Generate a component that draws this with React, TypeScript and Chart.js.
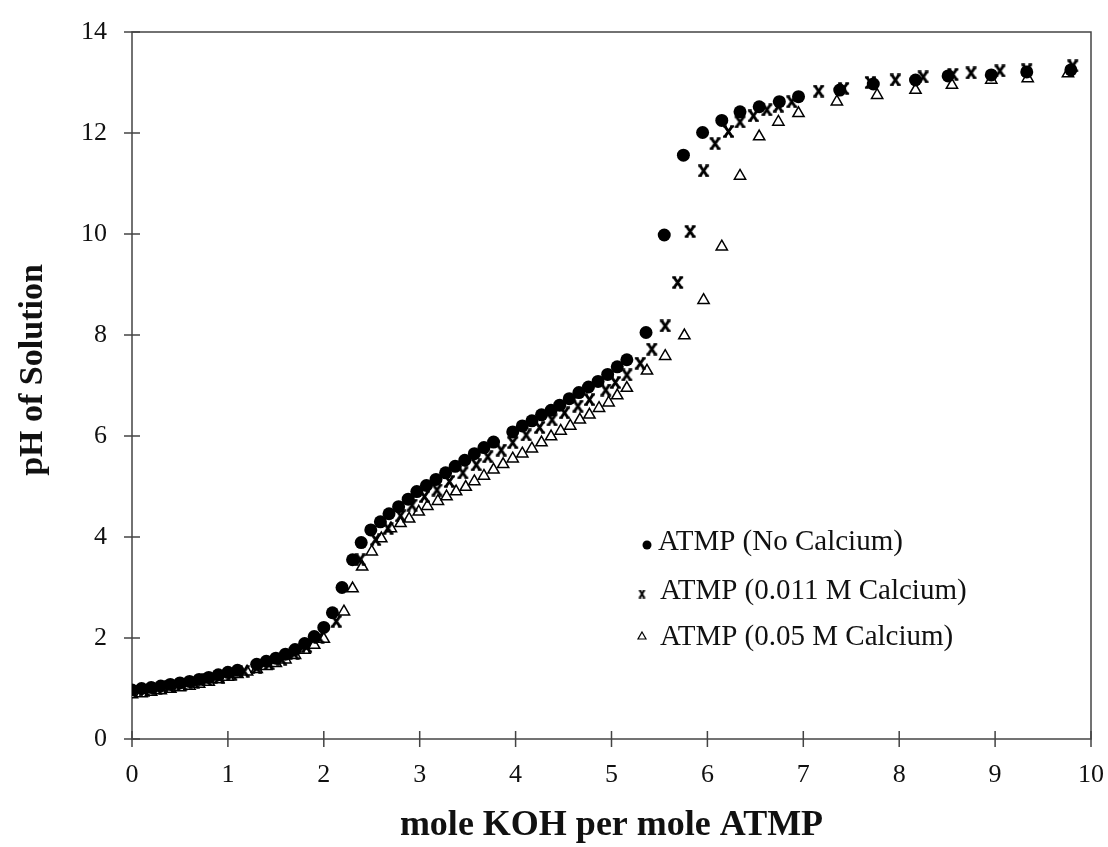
import React, { useEffect, useRef } from "react";
import { Chart, registerables } from "chart.js";

Chart.register(...registerables);

// ---- Data ----
const seriesLabels = [
  "ATMP (No Calcium)",
  "ATMP (0.011 M Calcium)",
  "ATMP (0.05 M Calcium)",
];

const noCaX = [
  0.0, 0.1, 0.2, 0.3, 0.4, 0.5, 0.6, 0.7, 0.8, 0.9, 1.0, 1.1, 1.3, 1.4, 1.5, 1.6, 1.7, 1.8, 1.9, 2.0,
  2.09, 2.19, 2.3, 2.39, 2.49, 2.59, 2.68, 2.78, 2.88, 2.97, 3.07, 3.17, 3.27, 3.37, 3.47, 3.57, 3.67, 3.77,
  3.97, 4.07, 4.17, 4.27, 4.37, 4.46, 4.56, 4.66, 4.76, 4.86, 4.96, 5.06, 5.16, 5.36, 5.55, 5.75, 5.95,
  6.15, 6.34, 6.54, 6.75, 6.95, 7.38, 7.73, 8.17, 8.51, 8.96, 9.33, 9.79,
];
const noCaY = [
  0.97, 1.0, 1.02, 1.05, 1.08, 1.11, 1.14, 1.18, 1.22, 1.27, 1.32, 1.36, 1.48, 1.54, 1.6, 1.68, 1.77, 1.89, 2.03, 2.21,
  2.5, 3.0, 3.55, 3.89, 4.14, 4.3, 4.46, 4.6, 4.75, 4.9, 5.02, 5.14, 5.27, 5.4, 5.52, 5.65, 5.77, 5.88,
  6.08, 6.2, 6.3, 6.42, 6.51, 6.61, 6.74, 6.86, 6.97, 7.08, 7.22, 7.37, 7.51, 8.05, 9.98, 11.56, 12.01,
  12.25, 12.42, 12.52, 12.62, 12.72, 12.85, 12.97, 13.05, 13.13, 13.15, 13.21, 13.25,
];

const midCaX = [
  0.0, 0.13, 0.26, 0.39, 0.52, 0.65, 0.78, 0.91, 1.04, 1.17, 1.3, 1.43, 1.56, 1.69, 1.82, 1.95, 2.13, 2.38,
  2.54, 2.67, 2.8, 2.92, 3.05, 3.18, 3.31, 3.45, 3.59, 3.71, 3.85, 3.97, 4.11, 4.25, 4.38, 4.51, 4.65, 4.77,
  4.94, 5.04, 5.16, 5.3, 5.42, 5.56, 5.69, 5.82, 5.96, 6.08, 6.22, 6.34, 6.48, 6.62, 6.74, 6.88, 7.16, 7.42,
  7.7, 7.96, 8.25, 8.56, 8.75, 9.05, 9.33, 9.81,
];
const midCaY = [
  0.94, 0.97, 1.0, 1.04, 1.08, 1.12, 1.17, 1.22, 1.28, 1.34, 1.41, 1.49, 1.58, 1.69, 1.83, 2.01, 2.33, 3.55,
  3.95, 4.17, 4.42, 4.63, 4.8, 4.93, 5.1, 5.27, 5.43, 5.59, 5.72, 5.87, 6.02, 6.17, 6.32, 6.46, 6.59, 6.72,
  6.91, 7.06, 7.21, 7.44, 7.72, 8.18, 9.04, 10.05, 11.25, 11.79, 12.03, 12.22, 12.34, 12.46, 12.53, 12.62, 12.83, 12.88,
  13.0, 13.05, 13.11, 13.16, 13.19, 13.23, 13.25, 13.33,
];

const hiCaX = [
  0.0, 0.1, 0.2, 0.3, 0.4, 0.5, 0.6, 0.7, 0.8, 0.9, 1.0, 1.1, 1.2, 1.3, 1.4, 1.5, 1.6, 1.7, 1.8, 1.9, 2.0,
  2.21, 2.3, 2.4, 2.5, 2.6, 2.7, 2.8, 2.89, 2.99, 3.08, 3.19, 3.28, 3.38, 3.48, 3.57, 3.67, 3.77, 3.87, 3.97,
  4.07, 4.17, 4.27, 4.37, 4.47, 4.57, 4.67, 4.77, 4.87, 4.97, 5.06, 5.16, 5.37, 5.56, 5.76, 5.96, 6.15, 6.34,
  6.54, 6.74, 6.95, 7.35, 7.77, 8.17, 8.55, 8.96, 9.34, 9.76,
];
const hiCaY = [
  0.88, 0.9, 0.93, 0.96, 0.99, 1.02, 1.05, 1.09, 1.13, 1.18, 1.23, 1.28, 1.33, 1.38, 1.44, 1.5, 1.57, 1.66, 1.76, 1.86, 1.98,
  2.52, 2.98, 3.41, 3.71, 3.97, 4.17, 4.27, 4.36, 4.5, 4.61, 4.71, 4.8, 4.9, 4.99, 5.1, 5.21, 5.33, 5.44, 5.55,
  5.65, 5.75, 5.87, 5.99, 6.1, 6.2, 6.32, 6.42, 6.55, 6.66, 6.8, 6.95, 7.29, 7.58, 7.99, 8.69, 9.75, 11.15,
  11.93, 12.22, 12.39, 12.62, 12.75, 12.85, 12.95, 13.05, 13.08, 13.18,
];

const xTicks = [0, 1, 2, 3, 4, 5, 6, 7, 8, 9, 10];
const yTicks = [0, 2, 4, 6, 8, 10, 12, 14];

const xTitle = "mole KOH per mole ATMP";
const yTitle = "pH of Solution";

const SERIF = "'Liberation Serif', 'Times New Roman', serif";

function makeXMarker(size: number, lw: number): HTMLCanvasElement {
  const c = document.createElement("canvas");
  c.width = size;
  c.height = size;
  const g = c.getContext("2d")!;
  g.strokeStyle = "#000";
  g.lineWidth = lw;
  const m = lw / 2;
  const s = size - m;
  const serif = size * 0.14;
  g.beginPath();
  g.moveTo(m + 1.5, m);
  g.lineTo(s - 1.5, s);
  g.moveTo(s - 1.5, m);
  g.lineTo(m + 1.5, s);
  g.stroke();
  g.lineWidth = lw * 0.8;
  g.beginPath();
  g.moveTo(m + 1.5 - serif, m);
  g.lineTo(m + 1.5 + serif, m);
  g.moveTo(s - 1.5 - serif, m);
  g.lineTo(s - 1.5 + serif, m);
  g.moveTo(m + 1.5 - serif, s);
  g.lineTo(m + 1.5 + serif, s);
  g.moveTo(s - 1.5 - serif, s);
  g.lineTo(s - 1.5 + serif, s);
  g.stroke();
  return c;
}

function zip(xs: number[], ys: number[]) {
  return xs.map((x, i) => ({ x, y: ys[i] }));
}

export default function App() {
  const ref = useRef<HTMLCanvasElement | null>(null);

  useEffect(() => {
    if (!ref.current) return;
    const xMarker = makeXMarker(13, 2.8);
    const xMarkerSmall = makeXMarker(9, 2.0);

    const framePlugin = {
      id: "frame",
      beforeDatasetsDraw(chart: any) {
        const { ctx, chartArea, scales } = chart;
        const { left, right, top, bottom } = chartArea;
        ctx.save();
        ctx.strokeStyle = "#444";
        ctx.lineWidth = 1.5;
        ctx.strokeRect(left, top, right - left, bottom - top);
        ctx.beginPath();
        yTicks.forEach((v) => {
          const py = scales.y.getPixelForValue(v);
          ctx.moveTo(left - 8, py);
          ctx.lineTo(left + 8, py);
        });
        xTicks.forEach((v) => {
          const px = scales.x.getPixelForValue(v);
          ctx.moveTo(px, bottom - 8);
          ctx.lineTo(px, bottom + 8);
        });
        ctx.stroke();
        ctx.restore();
      },
    };

    const legendPlugin = {
      id: "customLegend",
      afterDatasetsDraw(chart: any) {
        const { ctx } = chart;
        ctx.save();
        // y axis title
        ctx.save();
        ctx.translate(33, 370);
        ctx.rotate(-Math.PI / 2);
        ctx.font = `bold 34px ${SERIF}`;
        ctx.fillStyle = "#111";
        ctx.textAlign = "center";
        ctx.textBaseline = "middle";
        ctx.fillText(yTitle, 0, 0);
        ctx.restore();

        ctx.font = `29px ${SERIF}`;
        ctx.fillStyle = "#111";
        ctx.textBaseline = "alphabetic";
        ctx.textAlign = "left";
        const rows = [
          { ty: 550, tx: 658 },
          { ty: 599, tx: 660 },
          { ty: 645, tx: 660 },
        ];
        rows.forEach((r, i) => ctx.fillText(chart.data.datasets[i].label, r.tx, r.ty));
        // markers
        ctx.fillStyle = "#000";
        ctx.beginPath();
        ctx.arc(647, 545, 4.5, 0, Math.PI * 2);
        ctx.fill();
        ctx.drawImage(xMarkerSmall, 642 - 4.5, 594 - 4.5);
        ctx.strokeStyle = "#000";
        ctx.lineWidth = 1.2;
        ctx.fillStyle = "#fff";
        ctx.beginPath();
        ctx.moveTo(642, 632);
        ctx.lineTo(646, 639);
        ctx.lineTo(638, 639);
        ctx.closePath();
        ctx.fill();
        ctx.stroke();
        ctx.restore();
      },
    };

    const tickFont = { family: SERIF, size: 26 };

    const chart = new Chart(ref.current, {
      type: "scatter",
      data: {
        datasets: [
          {
            label: seriesLabels[0],
            data: zip(noCaX, noCaY),
            pointStyle: "circle",
            pointRadius: 6.5,
            backgroundColor: "#000",
            borderColor: "#000",
            borderWidth: 0,
            order: 2,
          },
          {
            label: seriesLabels[1],
            data: zip(midCaX, midCaY),
            pointStyle: xMarker as any,
            pointRadius: 6.5,
            backgroundColor: "#000",
            borderColor: "#000",
            order: 1,
          },
          {
            label: seriesLabels[2],
            data: zip(hiCaX, hiCaY),
            pointStyle: "triangle",
            pointRadius: 6.5,
            backgroundColor: "#fff",
            borderColor: "#000",
            borderWidth: 1.5,
            order: 3,
          },
        ],
      },
      options: {
        animation: false,
        responsive: false,
        devicePixelRatio: 1,
        layout: { padding: { top: 32, right: 17, left: 0, bottom: 0 } },
        plugins: {
          legend: { display: false },
          tooltip: { enabled: false },
        },
        scales: {
          x: {
            type: "linear",
            min: 0,
            max: 10,
            afterBuildTicks: (s: any) => {
              s.ticks = xTicks.map((v) => ({ value: v }));
            },
            ticks: { font: tickFont, color: "#111", padding: 21, maxRotation: 0 },
            grid: { display: false, drawTicks: false },
            border: { display: false },
            title: {
              display: true,
              text: xTitle,
              color: "#111",
              font: { family: SERIF, size: 36, weight: "bold" },
              padding: { top: 0, bottom: 0 },
            },
            afterFit: (s: any) => {
              s.height = 108;
              s.paddingLeft = 0;
              s.paddingRight = 0;
            },
          },
          y: {
            type: "linear",
            min: 0,
            max: 14,
            afterBuildTicks: (s: any) => {
              s.ticks = yTicks.map((v) => ({ value: v }));
            },
            ticks: { font: tickFont, color: "#111", padding: 25 },
            grid: { display: false, drawTicks: false },
            border: { display: false },
            title: { display: false },
            afterFit: (s: any) => {
              s.width = 132;
              s.paddingTop = 0;
              s.paddingBottom = 0;
            },
          },
        },
      } as any,
      plugins: [framePlugin, legendPlugin],
    });
    return () => chart.destroy();
  }, []);

  return (
    <div style={{ position: "fixed", left: 0, top: 0, width: 1108, height: 847, background: "#fff" }}>
      <canvas ref={ref} width={1108} height={847} style={{ width: 1108, height: 847 }} />
    </div>
  );
}
